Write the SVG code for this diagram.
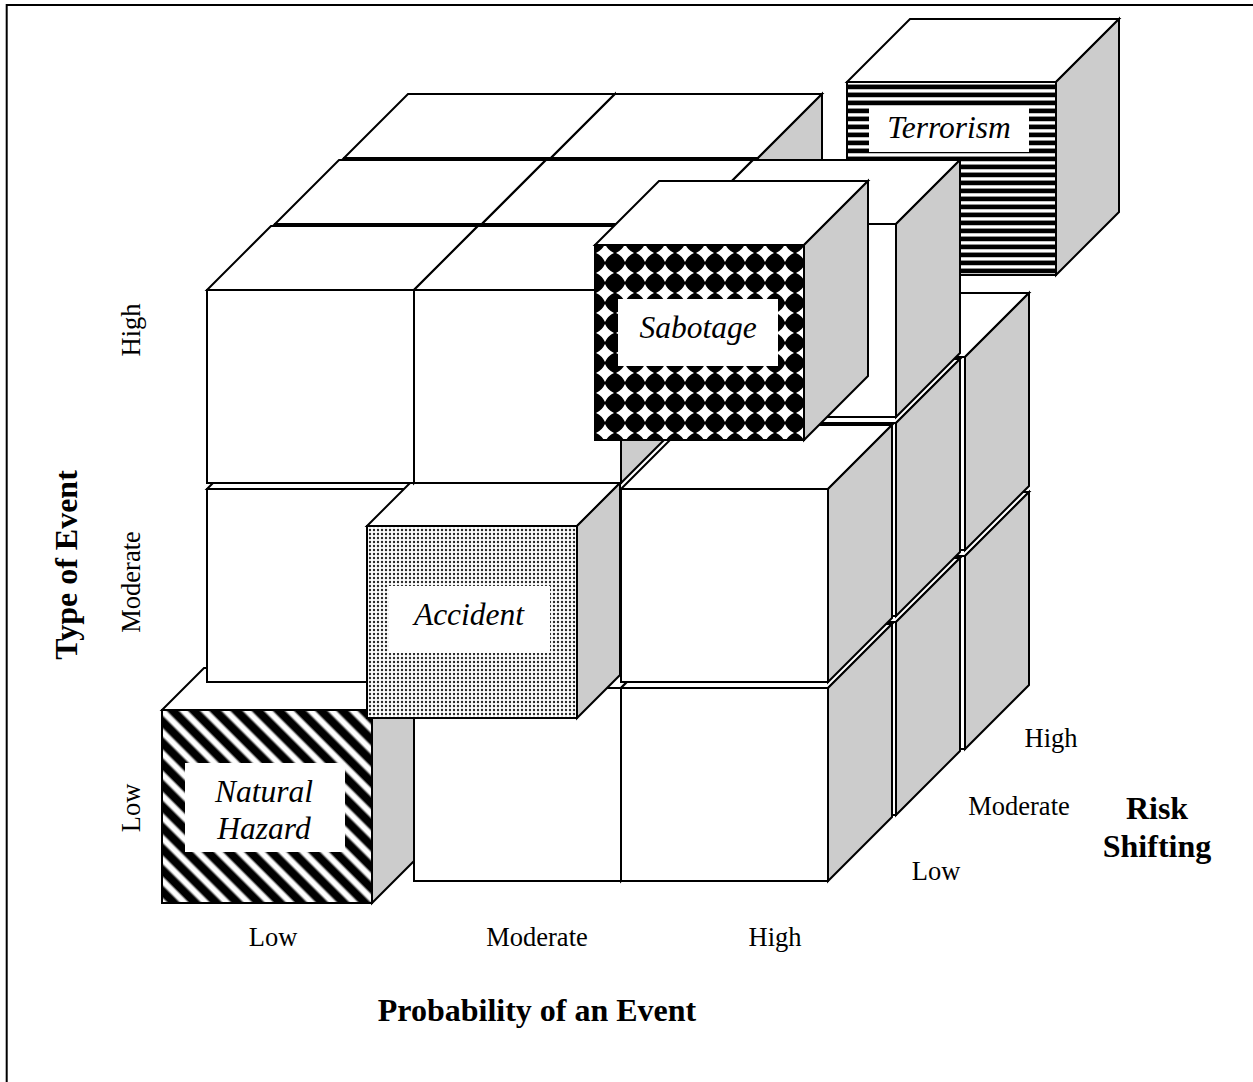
<svg xmlns="http://www.w3.org/2000/svg" width="1253" height="1082" viewBox="0 0 1253 1082">
<style>
  .e{stroke:#000;stroke-width:2;stroke-linejoin:miter}
  .w{fill:#fff}
  .g{fill:#ccc}
  text{font-family:"Liberation Serif","Times New Roman",serif;fill:#000}
  .tick{font-size:26.5px;text-anchor:middle}
  .ttl{font-size:32px;font-weight:bold;text-anchor:middle}
  .lbl{font-size:31.5px;font-style:italic;text-anchor:middle}
</style>
<defs>
  <!-- plain cube: origin at the top-left corner of the front face -->
  <g id="cube">
    <polygon class="e w" points="0,0 64,-64 271,-64 207,0"/>
    <polygon class="e g" points="207,0 271,-64 271,129 207,193"/>
    <rect class="e w" width="207" height="193"/>
  </g>
  <linearGradient id="band" x1="0" y1="0" x2="0" y2="1">
    <stop offset="0" stop-color="#fff"/>
    <stop offset="0.14" stop-color="#000"/>
    <stop offset="0.58" stop-color="#000"/>
    <stop offset="0.72" stop-color="#fff"/>
    <stop offset="1" stop-color="#fff"/>
  </linearGradient>
  <pattern id="stripesH" patternUnits="userSpaceOnUse" x="0" y="84" width="8" height="8">
    <rect width="8" height="8" fill="url(#band)"/>
  </pattern>
  <pattern id="stripesD" patternUnits="userSpaceOnUse" width="15" height="15" patternTransform="rotate(45)">
    <rect width="15" height="15" fill="url(#band)"/>
  </pattern>
  <pattern id="diamonds" patternUnits="userSpaceOnUse" x="595" y="243" width="20" height="20">
    <rect width="20" height="20" fill="#000"/>
    <path d="M10,1 Q12.8,7.2 19,10 Q12.8,12.8 10,19 Q7.2,12.8 1,10 Q7.2,7.2 10,1Z" fill="#fff"/>
  </pattern>
  <pattern id="dots" patternUnits="userSpaceOnUse" width="4" height="4">
    <rect width="4" height="4" fill="#fff"/>
    <circle cx="2" cy="2" r="1.2" fill="#2a2a2a"/>
  </pattern>
</defs>

<rect width="1253" height="1082" fill="#fff"/>
<path d="M6.7,1082 V5 H1253" fill="none" stroke="#000" stroke-width="2"/>

<!-- back layer (high risk shifting) -->
<g id="back-low-p0"><use href="#cube" x="344" y="556"/></g>
<g id="back-low-p1"><use href="#cube" x="551" y="556"/></g>
<g id="back-low-p2"><use href="#cube" x="758" y="556"/></g>
<g id="back-mod-p0"><use href="#cube" x="344" y="357"/></g>
<g id="back-mod-p1"><use href="#cube" x="551" y="357"/></g>
<g id="back-mod-p2"><use href="#cube" x="758" y="357"/></g>
<g id="back-high-p0"><use href="#cube" x="344" y="158"/></g>
<g id="back-high-p1"><use href="#cube" x="551" y="158"/></g>

<!-- pulled-out cube: terrorism -->
<g id="terrorism">
  <polygon class="e w" points="847,82 910,19 1119,19 1056,82"/>
  <polygon class="e g" points="1056,82 1119,19 1119,212 1056,275"/>
  <rect class="e" x="847" y="82" width="209" height="193" fill="url(#stripesH)"/>
  <rect x="869" y="106" width="160" height="46" fill="#fff"/>
  <text class="lbl" x="949" y="138">Terrorism</text>
</g>

<!-- middle layer (moderate risk shifting) -->
<g id="mid-low-p0"><use href="#cube" x="275" y="622"/></g>
<g id="mid-low-p1"><use href="#cube" x="482" y="622"/></g>
<g id="mid-low-p2"><use href="#cube" x="689" y="622"/></g>
<g id="mid-mod-p0"><use href="#cube" x="275" y="423"/></g>
<g id="mid-mod-p1"><use href="#cube" x="482" y="423"/></g>
<g id="mid-mod-p2"><use href="#cube" x="689" y="423"/></g>
<g id="mid-high-p0"><use href="#cube" x="275" y="224"/></g>
<g id="mid-high-p1"><use href="#cube" x="482" y="224"/></g>
<g id="mid-high-p2"><use href="#cube" x="689" y="224"/></g>

<!-- front layer (low risk shifting) -->
<g id="natural-hazard">
  <polygon class="e w" points="162,710 204,668 414,668 372,710"/>
  <polygon class="e g" points="372,710 414,668 414,861 372,903"/>
  <rect class="e" x="162" y="710" width="210" height="193" fill="url(#stripesD)"/>
  <rect x="185" y="763" width="160" height="89" fill="#fff"/>
  <text class="lbl" x="264" y="802">Natural</text>
  <text class="lbl" x="264" y="839">Hazard</text>
</g>
<g id="front-low-p1"><use href="#cube" x="414" y="688"/></g>
<g id="front-low-p2"><use href="#cube" x="621" y="688"/></g>
<g id="front-mod-p0"><use href="#cube" x="207" y="489"/></g>
<g id="accident">
  <polygon class="e w" points="367,526 410,483 620,483 577,526"/>
  <polygon class="e g" points="577,526 620,483 620,675 577,718"/>
  <rect class="e" x="367" y="526" width="210" height="192" fill="url(#dots)"/>
  <rect x="389" y="586" width="161" height="67" fill="#fff"/>
  <text class="lbl" x="469" y="625">Accident</text>
</g>
<g id="front-mod-p2"><use href="#cube" x="621" y="489"/></g>
<g id="front-high-p0"><use href="#cube" x="207" y="290"/></g>
<g id="front-high-p1"><use href="#cube" x="414" y="290"/></g>
<g id="sabotage">
  <polygon class="e w" points="595,245 659,181 868,181 804,245"/>
  <polygon class="e g" points="804,245 868,181 868,376 804,440"/>
  <rect class="e" x="595" y="245" width="209" height="195" fill="url(#diamonds)"/>
  <rect x="618" y="299" width="160" height="67" fill="#fff"/>
  <text class="lbl" x="698" y="338">Sabotage</text>
</g>

<!-- axis: type of event -->
<g id="axis-type">
  <text class="ttl" transform="translate(77,565) rotate(-90)">Type of Event</text>
  <text class="tick" transform="translate(140,330) rotate(-90)">High</text>
  <text class="tick" transform="translate(140,582) rotate(-90)">Moderate</text>
  <text class="tick" transform="translate(140,808) rotate(-90)">Low</text>
</g>
<!-- axis: probability -->
<g id="axis-probability">
  <text class="tick" x="273" y="946">Low</text>
  <text class="tick" x="537" y="946">Moderate</text>
  <text class="tick" x="775" y="946">High</text>
  <text class="ttl" x="537" y="1021">Probability of an Event</text>
</g>
<!-- axis: risk shifting -->
<g id="axis-risk">
  <text class="tick" x="936" y="880">Low</text>
  <text class="tick" x="1019" y="815">Moderate</text>
  <text class="tick" x="1051" y="747">High</text>
  <text class="ttl" x="1157" y="819">Risk</text>
  <text class="ttl" x="1157" y="857">Shifting</text>
</g>
</svg>
